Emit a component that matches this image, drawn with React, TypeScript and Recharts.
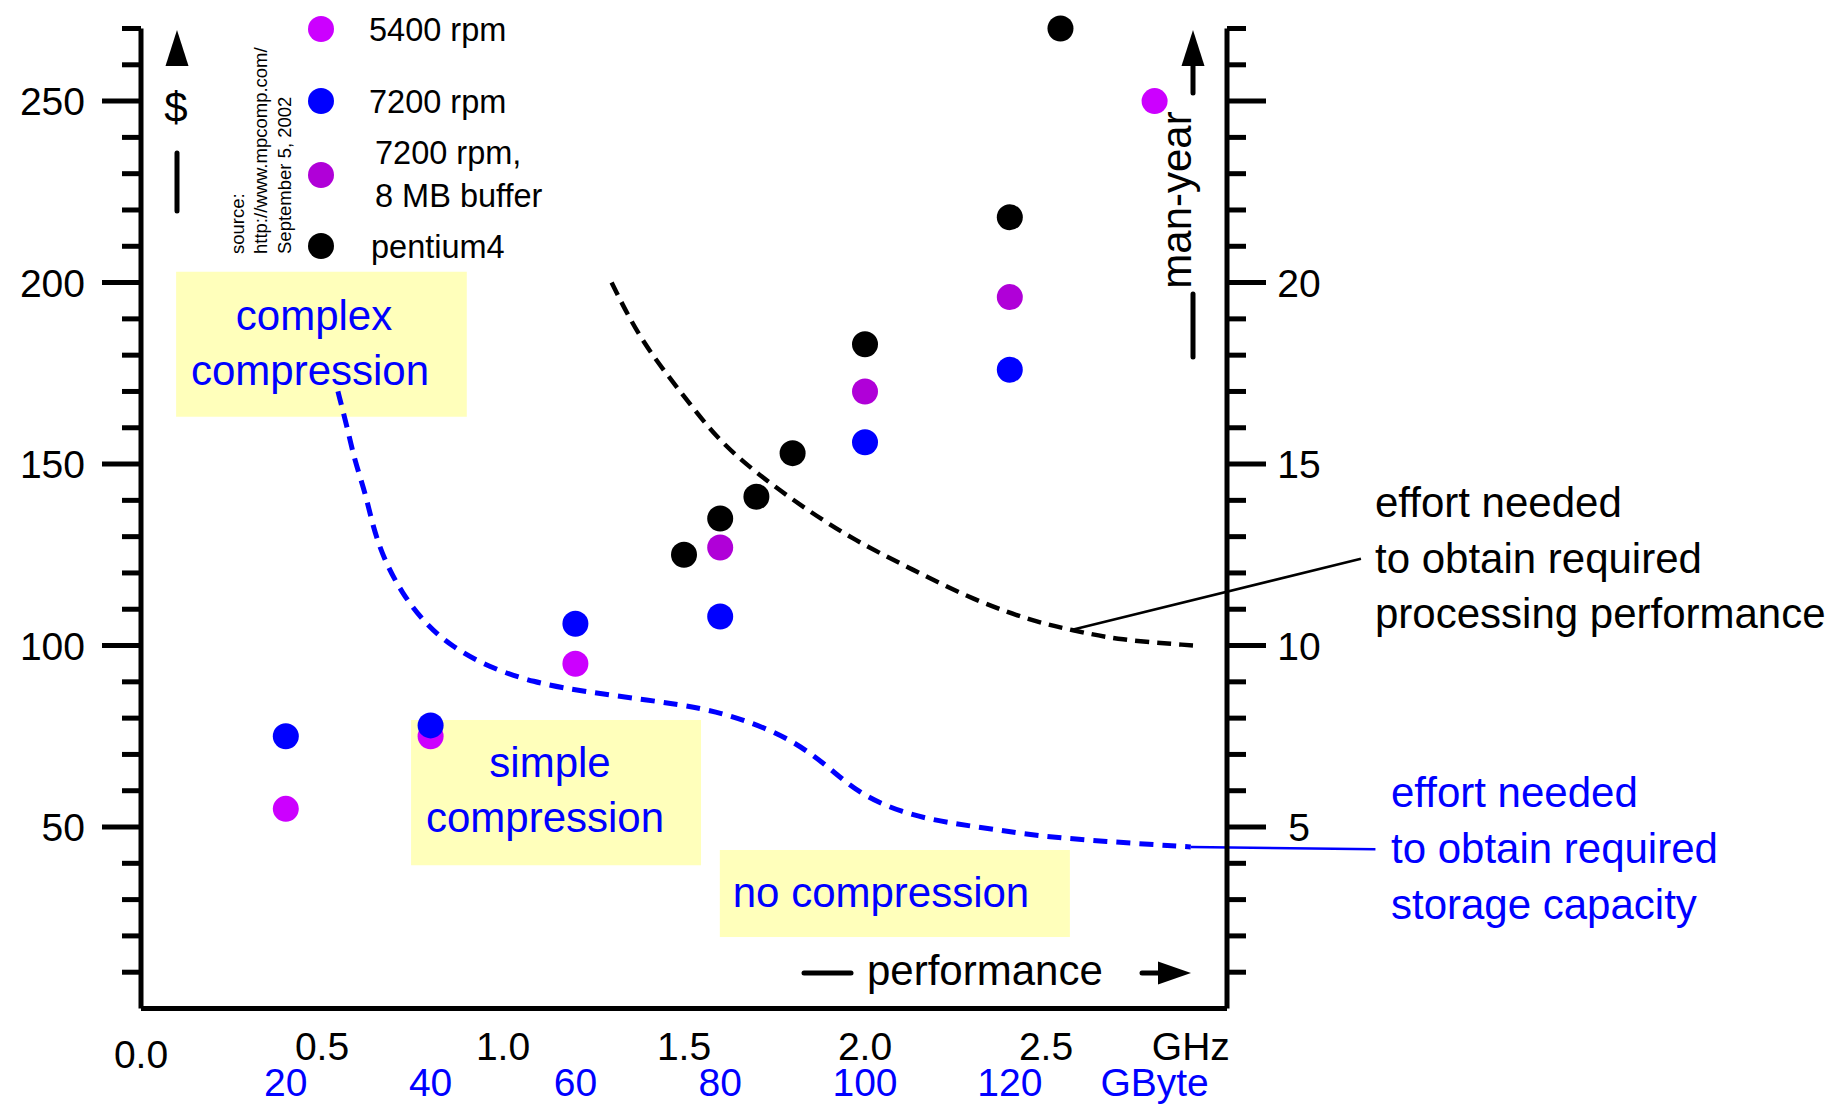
import React from 'react';
import {
  ComposedChart,
  Scatter,
  Line,
  XAxis,
  YAxis,
  ReferenceArea,
  ReferenceLine,
} from 'recharts';

const FONT = '"Liberation Sans", Arial, Helvetica, sans-serif';
const BLUE = '#0000FF';
const MAGENTA = '#CC00FF';
const PURPLE = '#B000D8';
const YELLOW = '#FFFFBB';

// ---- data (GHz vs $) ----
const rpm5400 = [
  { ghz: 0.4, usd: 55 },
  { ghz: 0.8, usd: 75 },
  { ghz: 1.2, usd: 95 },
  { ghz: 2.8, usd: 250 },
];
const rpm7200 = [
  { ghz: 0.4, usd: 75 },
  { ghz: 0.8, usd: 78 },
  { ghz: 1.2, usd: 106 },
  { ghz: 1.6, usd: 108 },
  { ghz: 2.0, usd: 156 },
  { ghz: 2.4, usd: 176 },
];
const rpm7200buf = [
  { ghz: 1.6, usd: 127 },
  { ghz: 2.0, usd: 170 },
  { ghz: 2.4, usd: 196 },
];
const pentium4 = [
  { ghz: 1.5, usd: 125 },
  { ghz: 1.6, usd: 135 },
  { ghz: 1.7, usd: 141 },
  { ghz: 1.8, usd: 153 },
  { ghz: 2.0, usd: 183 },
  { ghz: 2.4, usd: 218 },
  { ghz: 2.54, usd: 270 },
];

// ---- effort curves (GHz vs man-year) ----
const processingEffort = [
  { ghz: 1.3, my: 20.0 },
  { ghz: 1.38, my: 18.4 },
  { ghz: 1.49, my: 17.0 },
  { ghz: 1.59, my: 15.7 },
  { ghz: 1.7, my: 14.75 },
  { ghz: 1.83, my: 13.8 },
  { ghz: 1.97, my: 12.9 },
  { ghz: 2.13, my: 12.1 },
  { ghz: 2.3, my: 11.25 },
  { ghz: 2.47, my: 10.65 },
  { ghz: 2.57, my: 10.43 },
  { ghz: 2.7, my: 10.15 },
  { ghz: 2.91, my: 10.0 },
];
const storageEffort = [
  { ghz: 0.544, my: 17.0 },
  { ghz: 0.57, my: 16.0 },
  { ghz: 0.59, my: 15.1 },
  { ghz: 0.62, my: 14.2 },
  { ghz: 0.64, my: 13.3 },
  { ghz: 0.67, my: 12.4 },
  { ghz: 0.72, my: 11.45 },
  { ghz: 0.785, my: 10.6 },
  { ghz: 0.86, my: 9.96 },
  { ghz: 0.96, my: 9.41 },
  { ghz: 1.08, my: 8.99 },
  { ghz: 1.23, my: 8.72 },
  { ghz: 1.4, my: 8.5 },
  { ghz: 1.55, my: 8.28 },
  { ghz: 1.67, my: 7.95 },
  { ghz: 1.8, my: 7.4 },
  { ghz: 1.9, my: 6.65 },
  { ghz: 1.98, my: 5.94 },
  { ghz: 2.1, my: 5.39 },
  { ghz: 2.23, my: 5.11 },
  { ghz: 2.37, my: 4.92 },
  { ghz: 2.51, my: 4.7 },
  { ghz: 2.9, my: 4.45 },
];

// ---- ticks ----
const usdTicks = [10, 20, 30, 40, 50, 60, 70, 80, 90, 100, 110, 120, 130, 140, 150, 160, 170, 180, 190, 200, 210, 220, 230, 240, 250, 260, 270];
const usdLabels = [50, 100, 150, 200, 250];
const manYearTicks = [1, 2, 3, 4, 5, 6, 7, 8, 9, 10, 11, 12, 13, 14, 15, 16, 17, 18, 19, 20, 21, 22, 23, 24, 25, 26, 27];
const manYearLabels = [5, 10, 15, 20];
const ghzTicks = [0, 0.5, 1.0, 1.5, 2.0, 2.5, 2.9];
const ghzUnitAt = 2.9;
const gbTicks = [20, 40, 60, 80, 100, 120, 140];
const gbUnitAt = 140;
const GB_PER_GHZ = 50;

const allXTicks = Array.from(
  new Set([...ghzTicks, ...gbTicks.map((g) => +(g / GB_PER_GHZ).toFixed(6))])
).sort((a, b) => a - b);

const near = (a: number, b: number) => Math.abs(a - b) < 1e-6;

const LeftTick = (props: any) => {
  const { x, y, payload } = props;
  const v = payload.value;
  const major = v % 50 === 0;
  return (
    <g>
      <line x1={x} x2={x - (major ? 39 : 19)} y1={y} y2={y} stroke="#000" strokeWidth={5} />
      {usdLabels.includes(v) && (
        <text x={x - 56} y={y + 14} textAnchor="end" fontSize={39} fontFamily={FONT} fill="#000">
          {v}
        </text>
      )}
    </g>
  );
};

const RightTick = (props: any) => {
  const { x, y, payload } = props;
  const v = payload.value;
  const major = v % 5 === 0;
  return (
    <g>
      <line x1={x} x2={x + (major ? 39 : 19)} y1={y} y2={y} stroke="#000" strokeWidth={5} />
      {manYearLabels.includes(v) && (
        <text x={x + 72} y={y + 14} textAnchor="middle" fontSize={39} fontFamily={FONT} fill="#000">
          {v}
        </text>
      )}
    </g>
  );
};

const BottomTick = (props: any) => {
  const { x, y, payload } = props;
  const v = payload.value as number;
  const isGhz = ghzTicks.some((t) => near(t, v));
  const gb = Math.round(v * GB_PER_GHZ);
  const isGb = gbTicks.includes(gb) && near(gb / GB_PER_GHZ, v);
  return (
    <g fontFamily={FONT} fontSize={39} textAnchor="middle">
      {isGhz && (
        <text x={x} y={y + (v === 0 ? 59 : 51)} fill="#000">
          {near(v, ghzUnitAt) ? 'GHz' : v.toFixed(1)}
        </text>
      )}
      {isGb && (
        <text x={x} y={y + 87} fill={BLUE}>
          {gb === gbUnitAt ? 'GByte' : String(gb)}
        </text>
      )}
    </g>
  );
};

const dot = (color: string) => (p: any) => <circle cx={p.cx} cy={p.cy} r={13} fill={color} />;

const legendItems = [
  { color: MAGENTA, lines: ['5400 rpm'], y: 29, tx: 369 },
  { color: BLUE, lines: ['7200 rpm'], y: 101, tx: 369 },
  { color: PURPLE, lines: ['7200 rpm,', '8 MB buffer'], y: 175, tx: 375 },
  { color: '#000', lines: ['pentium4'], y: 246, tx: 371 },
];

const Overlay = () => (
  <svg
    width={1830}
    height={1104}
    style={{ position: 'absolute', left: 0, top: 0, pointerEvents: 'none' }}
    fontFamily={FONT}
  >
    {/* $ axis title with arrow */}
    <polygon points="165.5,66 188.5,66 177,30" fill="#000" />
    <text x={176} y={122} textAnchor="middle" fontSize={42} fill="#000">$</text>
    <line x1={177} x2={177} y1={153} y2={211} stroke="#000" strokeWidth={5} strokeLinecap="round" />

    {/* source note */}
    {['source:', 'http://www.mpcomp.com/', 'September 5, 2002'].map((t, i) => (
      <text
        key={t}
        transform={`translate(${[237, 260, 284][i]},254) rotate(-90)`}
        dominantBaseline="central"
        fontSize={18.5}
        fill="#000"
      >
        {t}
      </text>
    ))}

    {/* legend */}
    {legendItems.map((it) => (
      <g key={it.lines[0] + it.y}>
        <circle cx={321} cy={it.y} r={13} fill={it.color} />
        {it.lines.length === 1 ? (
          <text x={it.tx} y={it.y + 12} fontSize={32.5} fill="#000">{it.lines[0]}</text>
        ) : (
          <>
            <text x={it.tx} y={152 + 12} fontSize={32.5} fill="#000">{it.lines[0]}</text>
            <text x={it.tx} y={195 + 12} fontSize={32.5} fill="#000">{it.lines[1]}</text>
          </>
        )}
      </g>
    ))}

    {/* man-year axis title with arrow */}
    <polygon points="1181.5,66 1204.5,66 1193,30" fill="#000" />
    <line x1={1193} x2={1193} y1={64} y2={93} stroke="#000" strokeWidth={5} strokeLinecap="round" />
    <text transform="translate(1191,200) rotate(-90)" textAnchor="middle" fontSize={42} fill="#000">man-year</text>
    <line x1={1193} x2={1193} y1={294} y2={357} stroke="#000" strokeWidth={5} strokeLinecap="round" />

    {/* performance arrow */}
    <line x1={804} x2={851} y1={973} y2={973} stroke="#000" strokeWidth={5} strokeLinecap="round" />
    <text x={867} y={985} fontSize={42} fill="#000">performance</text>
    <line x1={1142} x2={1162} y1={973} y2={973} stroke="#000" strokeWidth={5} strokeLinecap="round" />
    <polygon points="1158,961.5 1158,984.5 1191,973" fill="#000" />

    {/* box texts */}
    <g fontSize={42} fill={BLUE} textAnchor="middle">
      <text x={314} y={330}>complex</text>
      <text x={310} y={385}>compression</text>
      <text x={550} y={777}>simple</text>
      <text x={545} y={832}>compression</text>
      <text x={881} y={907}>no compression</text>
    </g>

    {/* effort annotations */}
    <g fontSize={42} fill="#000">
      <text x={1375} y={517}>effort needed</text>
      <text x={1375} y={573}>to obtain required</text>
      <text x={1375} y={628}>processing performance</text>
    </g>
    <g fontSize={42} fill={BLUE}>
      <text x={1391} y={807}>effort needed</text>
      <text x={1391} y={863}>to obtain required</text>
      <text x={1391} y={919}>storage capacity</text>
    </g>
  </svg>
);

export default function App() {
  return (
    <div style={{ position: 'absolute', left: 0, top: 0, width: 1830, height: 1104, background: '#fff' }}>
      <ComposedChart
        width={1830}
        height={1104}
        margin={{ top: 28.5, right: 503, bottom: 5.5, left: 0 }}
      >
        <XAxis
          xAxisId="x1"
          type="number"
          dataKey="ghz"
          domain={[0, 3]}
          ticks={allXTicks}
          interval={0}
          height={90}
          axisLine={{ stroke: '#000', strokeWidth: 5 }}
          tickLine={false}
          tickSize={0}
          tickMargin={0}
          tick={<BottomTick />}
        />
        <YAxis
          yAxisId="usd"
          type="number"
          dataKey="usd"
          domain={[0, 270]}
          ticks={usdTicks}
          interval={0}
          width={141}
          axisLine={{ stroke: '#000', strokeWidth: 5 }}
          tickLine={false}
          tickSize={0}
          tickMargin={0}
          tick={<LeftTick />}
        />
        <YAxis
          yAxisId="my"
          orientation="right"
          type="number"
          dataKey="my"
          domain={[0, 27]}
          ticks={manYearTicks}
          interval={0}
          width={100}
          axisLine={{ stroke: '#000', strokeWidth: 5 }}
          tickLine={false}
          tickSize={0}
          tickMargin={0}
          tick={<RightTick />}
        />

        <ReferenceArea xAxisId="x1" yAxisId="usd" x1={0.097} x2={0.9} y1={163} y2={203} fill={YELLOW} fillOpacity={1} stroke="none" />
        <ReferenceArea xAxisId="x1" yAxisId="usd" x1={0.746} x2={1.547} y1={39.5} y2={79.5} fill={YELLOW} fillOpacity={1} stroke="none" />
        <ReferenceArea xAxisId="x1" yAxisId="usd" x1={1.599} x2={2.566} y1={19.7} y2={43.7} fill={YELLOW} fillOpacity={1} stroke="none" />

        <Line
          xAxisId="x1"
          yAxisId="my"
          data={processingEffort}
          dataKey="my"
          type="basis"
          stroke="#000"
          strokeWidth={4.5}
          strokeDasharray="14 8"
          dot={false}
          activeDot={false}
          isAnimationActive={false}
        />
        <Line
          xAxisId="x1"
          yAxisId="my"
          data={storageEffort}
          dataKey="my"
          type="basis"
          stroke={BLUE}
          strokeWidth={5}
          strokeDasharray="14 9"
          dot={false}
          activeDot={false}
          isAnimationActive={false}
        />

        <ReferenceLine
          xAxisId="x1"
          yAxisId="my"
          segment={[{ x: 2.57, y: 10.43 }, { x: 3.37, y: 12.39 }]}
          stroke="#000"
          strokeWidth={2.5}
          ifOverflow="visible"
        />
        <ReferenceLine
          xAxisId="x1"
          yAxisId="my"
          segment={[{ x: 2.9, y: 4.45 }, { x: 3.41, y: 4.39 }]}
          stroke={BLUE}
          strokeWidth={2.5}
          ifOverflow="visible"
        />

        <Scatter xAxisId="x1" yAxisId="usd" data={rpm5400} dataKey="usd" shape={dot(MAGENTA)} isAnimationActive={false} />
        <Scatter xAxisId="x1" yAxisId="usd" data={rpm7200} dataKey="usd" shape={dot(BLUE)} isAnimationActive={false} />
        <Scatter xAxisId="x1" yAxisId="usd" data={rpm7200buf} dataKey="usd" shape={dot(PURPLE)} isAnimationActive={false} />
        <Scatter xAxisId="x1" yAxisId="usd" data={pentium4} dataKey="usd" shape={dot('#000')} isAnimationActive={false} />
      </ComposedChart>
      <Overlay />
    </div>
  );
}
